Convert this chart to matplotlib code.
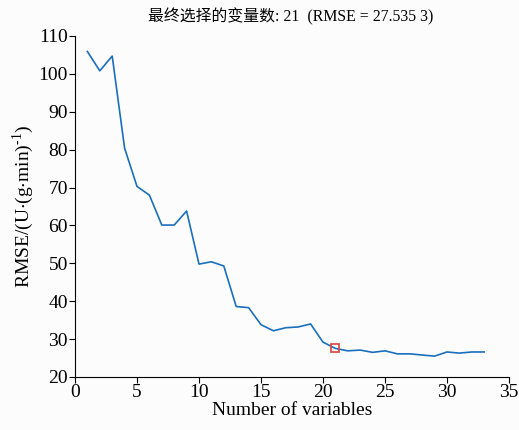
import matplotlib
matplotlib.use("Agg")
import matplotlib.pyplot as plt

plt.rcParams['font.family'] = ['Liberation Serif', 'Noto Sans CJK SC']
plt.rcParams['mathtext.fontset'] = 'stix'

n_vars = list(range(1, 34))
rmse = [105.9, 100.8, 104.7, 80.4, 70.3, 68.0, 60.1, 60.1, 63.8, 49.8,
        50.4, 49.3, 38.6, 38.3, 33.8, 32.2, 33.0, 33.2, 34.0, 29.2,
        27.535, 26.9, 27.1, 26.5, 26.9, 26.1, 26.1, 25.8, 25.5, 26.6,
        26.3, 26.6, 26.6]
best_n = 21
best_rmse = 27.5353

fig = plt.figure(figsize=(5.19, 4.30), dpi=100)
fig.patch.set_facecolor('#fcfcfc')
ax = fig.add_axes([0.1445, 0.1233, 0.8362, 0.793])
ax.set_facecolor('#fcfcfc')

ax.plot(n_vars, rmse, color='#1a6fbe', lw=1.2)
ax.plot([best_n], [best_rmse], marker='s', ms=6, mfc='none', mec='#d9423a', mew=1.2)

ax.set_xlim(0, 35)
ax.set_ylim(20, 110)
ax.set_xticks(range(0, 36, 5))
ax.set_yticks(range(20, 111, 10))
for s in ['top', 'right']:
    ax.spines[s].set_visible(False)
ax.tick_params(direction='out', length=4, labelsize=14, pad=1)

ax.set_xlabel('Number of variables', fontsize=14, labelpad=1)
ax.set_ylabel('RMSE/(U$\\cdot$(g$\\cdot$min)$^{\\mathregular{\u20101}}$)', fontsize=14, labelpad=2)
fig.text(0.56, 0.962, '最终选择的变量数: 21  (RMSE = 27.535 3)', fontsize=11.4,
         ha='center', va='center')

fig.savefig('out.png', dpi=100, facecolor=fig.get_facecolor())
